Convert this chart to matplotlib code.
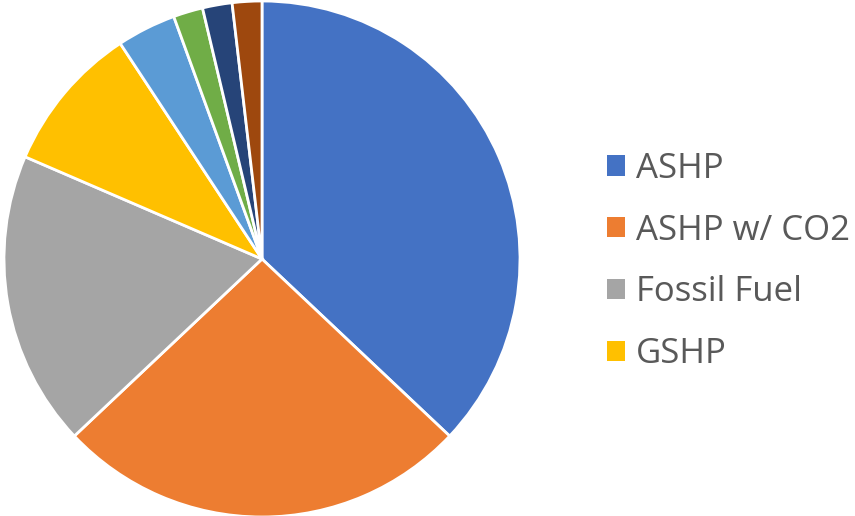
import matplotlib.pyplot as plt
from matplotlib.patches import Patch

# heating system types and number of installs
labels = ['ASHP', 'ASHP w/ CO2', 'Fossil Fuel', 'GSHP',
          'WSHP', 'Hybrid', 'Electric Resistance', 'Other']
counts = [20, 14, 10, 5, 2, 1, 1, 1]
colors = ['#4472C4', '#ED7D31', '#A5A5A5', '#FFC000',
          '#5B9BD5', '#70AD47', '#264478', '#9E480E']

fig = plt.figure(figsize=(8.55, 5.16), dpi=100)
ax = fig.add_axes([4 / 855, -1 / 516, 516 / 855, 1.0])

ax.pie(counts, colors=colors, startangle=90, counterclock=False,
       radius=1.0, wedgeprops={'edgecolor': 'white', 'linewidth': 2})
ax.set_xlim(-1, 1)
ax.set_ylim(-1, 1)
ax.set_aspect('equal')

# only the first four categories are listed in the legend
handles = [Patch(facecolor=c, edgecolor='none') for c in colors[:4]]
leg = fig.legend(handles, labels[:4], loc='center left',
                 bbox_to_anchor=(607 / 855, 1 - 261.5 / 516),
                 frameon=False, borderpad=0, borderaxespad=0,
                 handlelength=0.52, handleheight=0.52, handletextpad=0.32,
                 labelspacing=0.8, prop={'family': 'Open Sans', 'size': 25})
for t in leg.get_texts():
    t.set_color('#595959')

fig.savefig('out.png', dpi=100)
